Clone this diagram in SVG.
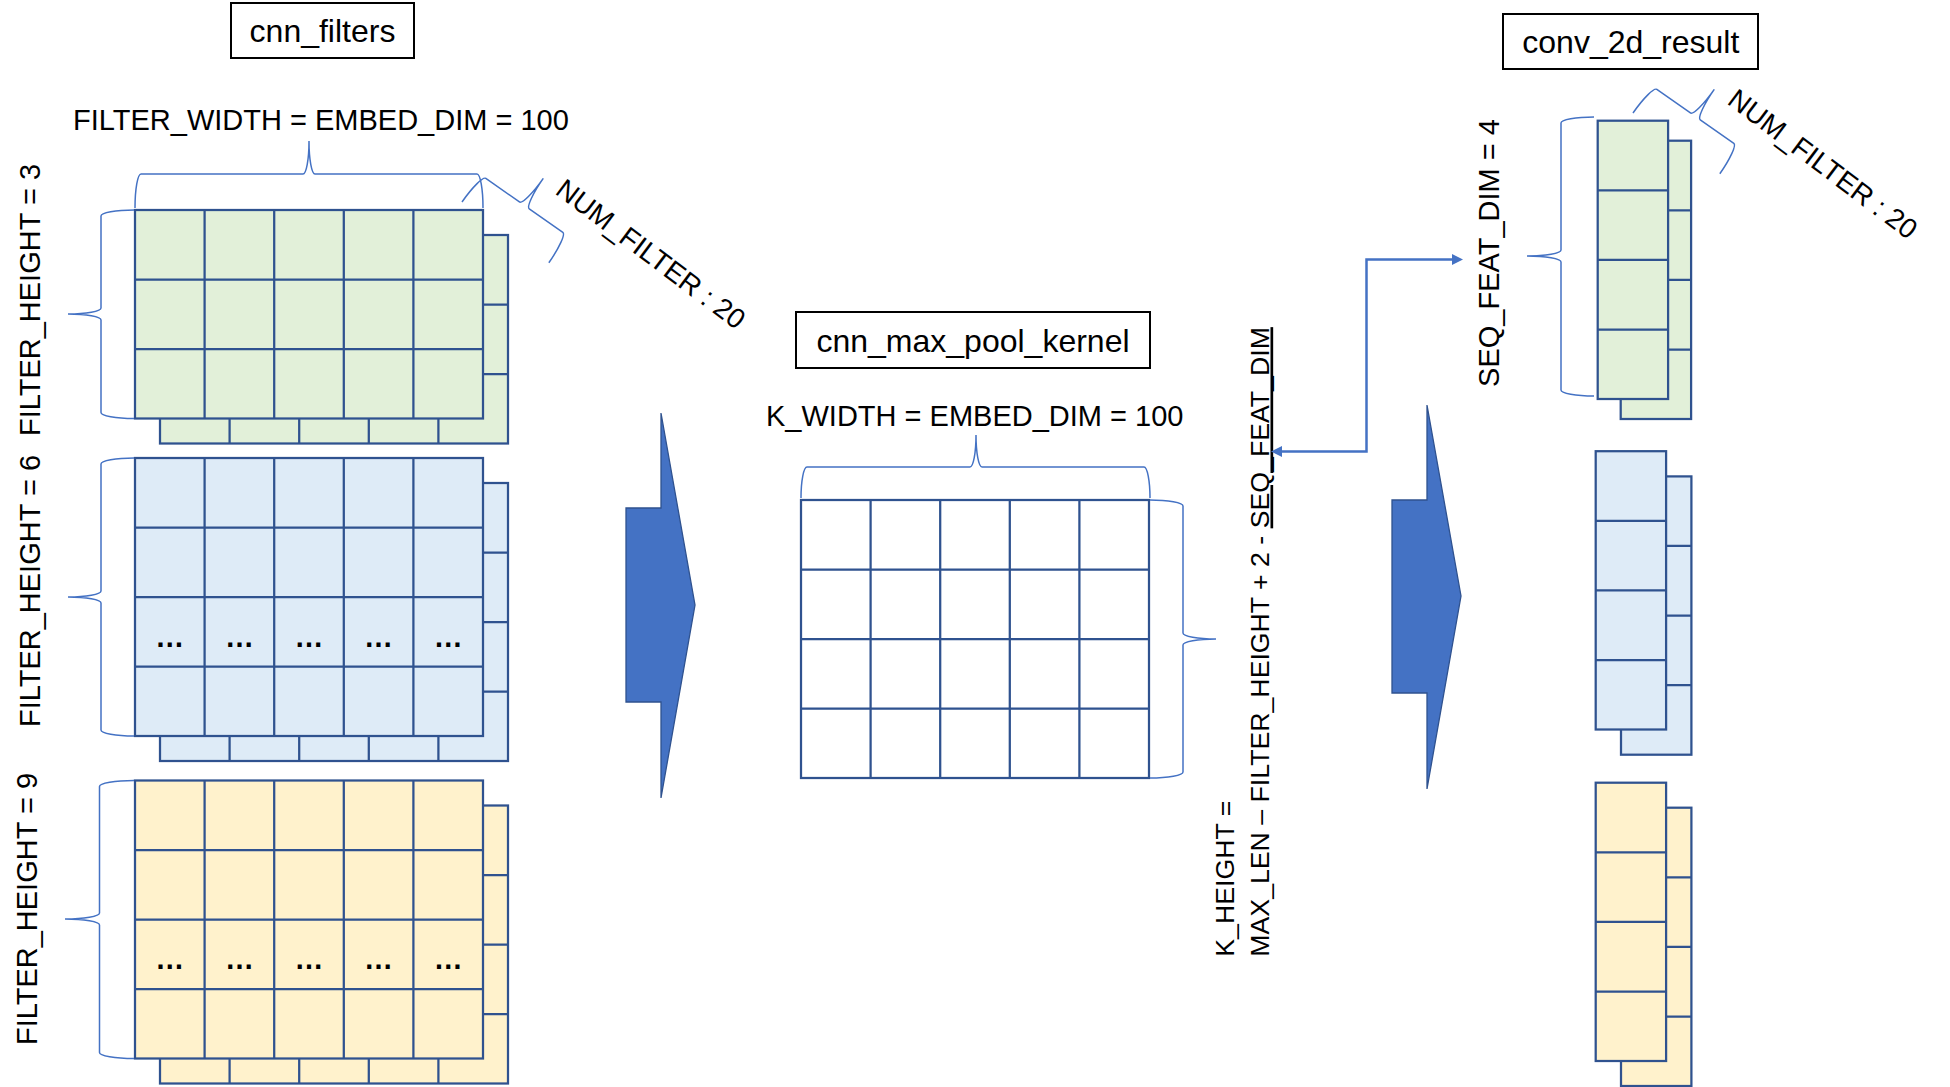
<svg xmlns="http://www.w3.org/2000/svg" width="1950" height="1087" viewBox="0 0 1950 1087">
<style>
text{font-family:"Liberation Sans",Arial,sans-serif;fill:#000}
.title{font-size:32px}
.lbl{font-size:29px}
.nlbl{font-size:28px}
.klbl{font-size:26.7px}
.dots{font-size:29px;font-weight:bold;text-anchor:middle}
.box{fill:#fff;stroke:#000;stroke-width:2}
.grid{stroke:#2F528F;stroke-width:2.25}
.brace{fill:none;stroke:#4472C4;stroke-width:1.5}
.bigarrow{fill:#4472C4;stroke:#2F528F;stroke-width:1.3}
.conn{fill:none;stroke:#4472C4;stroke-width:2.5}
.green{fill:#E2F0D9}.blue{fill:#DEEBF7}.yellow{fill:#FFF2CC}.white{fill:#FFFFFF}
</style>
<defs>
<g id="g53" class="grid"><rect width="348" height="208.5"/><path fill="none" d="M69.6,0V208.5M139.2,0V208.5M208.8,0V208.5M278.4,0V208.5M0,69.5H348M0,139H348"/></g>
<g id="g54" class="grid"><rect width="348" height="278"/><path fill="none" d="M69.6,0V278M139.2,0V278M208.8,0V278M278.4,0V278M0,69.5H348M0,139H348M0,208.5H348"/></g>
<g id="g14" class="grid"><rect width="70.4" height="278.3"/><path fill="none" d="M0,69.6H70.4M0,139.2H70.4M0,208.8H70.4"/></g>
<marker id="ah" markerUnits="userSpaceOnUse" markerWidth="12" markerHeight="12" viewBox="0 0 12 12" refX="7" refY="6" orient="auto-start-reverse"><path d="M0,0.5 L11,6 L0,11.5z" fill="#4472C4"/></marker>
</defs>

<g id="title-cnn-filters"><rect class="box" x="231" y="3" width="183" height="55"/><text class="title" x="322.5" y="42" text-anchor="middle">cnn_filters</text></g>
<g id="title-kernel"><rect class="box" x="796" y="312" width="354" height="56"/><text class="title" x="973" y="351.7" text-anchor="middle">cnn_max_pool_kernel</text></g>
<g id="title-result"><rect class="box" x="1503" y="14" width="255" height="55"/><text class="title" x="1630.8" y="53.3" text-anchor="middle">conv_2d_result</text></g>

<g id="filter-h3">
<use href="#g53" x="160" y="235" class="green"/>
<use href="#g53" x="135" y="210" class="green"/>
</g>
<g id="filter-h6">
<use href="#g54" x="160" y="483" class="blue"/>
<use href="#g54" x="135" y="458" class="blue"/>
<text class="dots" x="169.8" y="646.5">…</text><text class="dots" x="239.4" y="646.5">…</text><text class="dots" x="309" y="646.5">…</text><text class="dots" x="378.6" y="646.5">…</text><text class="dots" x="448.2" y="646.5">…</text>
</g>
<g id="filter-h9">
<use href="#g54" x="160" y="805.5" class="yellow"/>
<use href="#g54" x="135" y="780.5" class="yellow"/>
<text class="dots" x="169.8" y="969">…</text><text class="dots" x="239.4" y="969">…</text><text class="dots" x="309" y="969">…</text><text class="dots" x="378.6" y="969">…</text><text class="dots" x="448.2" y="969">…</text>
</g>

<g id="filter-labels">
<text class="lbl" x="73" y="130">FILTER_WIDTH = EMBED_DIM = 100</text>
<path class="brace" d="M135,208 A6,34 0 0 1 141,174 L303,174 A6,33 0 0 0 309,141 A6,33 0 0 0 315,174 L477,174 A6,34 0 0 1 483,208"/>
<path class="brace" d="M134,210 A33,6 0 0 0 101,216 L101,308 A33,6 0 0 1 68,314 A33,6 0 0 1 101,320 L101,412.5 A33,6 0 0 0 134,418.5"/>
<path class="brace" d="M134,458 A33,6 0 0 0 101,464 L101,591 A33,6 0 0 1 68,597 A33,6 0 0 1 101,603 L101,730 A33,6 0 0 0 134,736"/>
<path class="brace" d="M134,780.5 A34.5,6 0 0 0 99.5,786.5 L99.5,913 A34.5,6 0 0 1 65,919 A34.5,6 0 0 1 99.5,925 L99.5,1052.5 A34.5,6 0 0 0 134,1058.5"/>
<text class="lbl" text-anchor="middle" transform="translate(40,300) rotate(-90)">FILTER_HEIGHT = 3</text>
<text class="lbl" text-anchor="middle" transform="translate(40,591) rotate(-90)">FILTER_HEIGHT = 6</text>
<text class="lbl" text-anchor="middle" transform="translate(37.3,909) rotate(-90)">FILTER_HEIGHT = 9</text>
<path class="brace" transform="translate(462,202) rotate(35)" d="M0,0 A6,33 0 0 1 6,-33 L47,-33 A6,33 0 0 0 53,-66 A6,33 0 0 0 59,-33 L100,-33 A6,33 0 0 1 106,0"/>
<text class="nlbl" transform="translate(554,193) rotate(37)">NUM_FILTER : 20</text>
</g>

<g id="arrow-1"><polygon class="bigarrow" points="661,413 661,508 626,508 626,702 661,702 661,798 695,605"/></g>

<g id="kernel">
<use href="#g54" x="801" y="500" class="white"/>
<text class="lbl" x="766" y="425.7">K_WIDTH = EMBED_DIM = 100</text>
<path class="brace" d="M801,498 A6,31 0 0 1 807,467 L970,467 A6,32 0 0 0 976,435 A6,32 0 0 0 982,467 L1144,467 A6,31 0 0 1 1150,498"/>
<path class="brace" d="M1150,500 A33,6 0 0 1 1183,506 L1183,633 A33,6 0 0 0 1216,639 A33,6 0 0 0 1183,645 L1183,772 A33,6 0 0 1 1150,778"/>
<text class="klbl" transform="translate(1233.5,956.7) rotate(-90)">K_HEIGHT =</text>
<text class="klbl" transform="translate(1268.5,956.7) rotate(-90)">MAX_LEN – FILTER_HEIGHT + 2 - <tspan text-decoration="underline">SEQ_FEAT_DIM</tspan></text>
</g>

<g id="arrow-2"><polygon class="bigarrow" points="1427,405 1427,500 1392,500 1392,693 1427,693 1427,789 1461,596"/></g>

<g id="result">
<use href="#g14" x="1620.7" y="140.7" class="green"/>
<use href="#g14" x="1597.7" y="120.7" class="green"/>
<use href="#g14" x="1621" y="476.4" class="blue"/>
<use href="#g14" x="1595.7" y="451.2" class="blue"/>
<use href="#g14" x="1621" y="807.7" class="yellow"/>
<use href="#g14" x="1595.7" y="782.7" class="yellow"/>
<path class="brace" d="M1594,117 A33,6 0 0 0 1561,123 L1561,250 A34,6 0 0 1 1527,256 A34,6 0 0 1 1561,262 L1561,390 A33,6 0 0 0 1594,396"/>
<text class="lbl" text-anchor="middle" transform="translate(1499,253) rotate(-90)">SEQ_FEAT_DIM = 4</text>
<path class="brace" transform="translate(1633,113) rotate(35)" d="M0,0 A6,33 0 0 1 6,-33 L47,-33 A6,33 0 0 0 53,-66 A6,33 0 0 0 59,-33 L100,-33 A6,33 0 0 1 106,0"/>
<text class="nlbl" transform="translate(1726,103) rotate(37)">NUM_FILTER : 20</text>
</g>

<g id="connectors">
<path class="conn" marker-start="url(#ah)" marker-end="url(#ah)" d="M1275,451.5 H1366.5 V259.5 H1459"/>
</g>
</svg>
